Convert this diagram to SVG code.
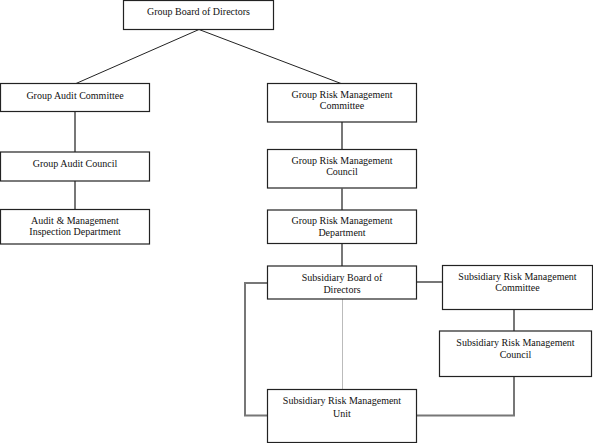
<svg xmlns="http://www.w3.org/2000/svg" width="593" height="443" viewBox="0 0 593 443">
<style>
.box{fill:#fff;stroke:#222;stroke-width:1.2}
.t{font-family:"Liberation Serif","Times New Roman",serif;font-size:10px;fill:#111;text-anchor:middle}
.c{fill:none;stroke:#222;stroke-width:1}
.g{fill:none;stroke:#777;stroke-width:2}
.lg{fill:none;stroke:#bbb;stroke-width:1}
</style>
<rect width="593" height="443" fill="#fff"/>
<g id="connectors">
<line class="c" x1="199" y1="29.5" x2="76" y2="83.5"/>
<line class="c" x1="199" y1="29.5" x2="341" y2="83.5"/>
<line class="g" x1="75" y1="112" x2="75" y2="152"/>
<line class="g" x1="75" y1="181" x2="75" y2="209"/>
<line class="g" x1="342" y1="122" x2="342" y2="149.5"/>
<line class="g" x1="342" y1="188.5" x2="342" y2="210"/>
<line class="g" x1="342" y1="243.5" x2="342" y2="266"/>
<line class="lg" x1="342.5" y1="299" x2="342.5" y2="389.5"/>
<line class="g" x1="417" y1="282" x2="442" y2="282"/>
<line class="g" x1="514" y1="309.5" x2="514" y2="331"/>
<polyline class="g" points="514,377 514,415.5 417,415.5"/>
<polyline class="g" points="267,283 245,283 245,415.5 267,415.5"/>
</g>
<g id="n-board">
<rect class="box" x="123.5" y="0.5" width="150" height="29"/>
<text class="t" x="198.5" y="15">Group Board of Directors</text>
</g>
<g id="n-gac">
<rect class="box" x="0.5" y="83.5" width="149" height="28"/>
<text class="t" x="75" y="98.5">Group Audit Committee</text>
</g>
<g id="n-gacouncil">
<rect class="box" x="0.5" y="152" width="149" height="29"/>
<text class="t" x="75" y="166.5">Group Audit Council</text>
</g>
<g id="n-amid">
<rect class="box" x="0.5" y="209.5" width="149" height="34.5"/>
<text class="t" x="75" y="223.5">Audit &amp; Management</text>
<text class="t" x="75" y="235">Inspection Department</text>
</g>
<g id="n-grmc">
<rect class="box" x="267.5" y="83.5" width="149" height="38.5"/>
<text class="t" x="342" y="98">Group Risk Management</text>
<text class="t" x="342" y="109.3">Committee</text>
</g>
<g id="n-grmcouncil">
<rect class="box" x="267.5" y="149.5" width="149" height="38.5"/>
<text class="t" x="342" y="163.5">Group Risk Management</text>
<text class="t" x="342" y="174.8">Council</text>
</g>
<g id="n-grmd">
<rect class="box" x="267.5" y="210" width="149" height="33.5"/>
<text class="t" x="342" y="224">Group Risk Management</text>
<text class="t" x="342" y="235.5">Department</text>
</g>
<g id="n-sbd">
<rect class="box" x="267.5" y="266" width="149" height="33"/>
<text class="t" x="342" y="281">Subsidiary Board of</text>
<text class="t" x="342" y="292.5">Directors</text>
</g>
<g id="n-srmc">
<rect class="box" x="442.5" y="265.5" width="150" height="44"/>
<text class="t" x="517.5" y="280">Subsidiary Risk Management</text>
<text class="t" x="517.5" y="291">Committee</text>
</g>
<g id="n-srmcouncil">
<rect class="box" x="439.5" y="331" width="152" height="45.5"/>
<text class="t" x="515.5" y="346">Subsidiary Risk Management</text>
<text class="t" x="515.5" y="358">Council</text>
</g>
<g id="n-srmu">
<rect class="box" x="267.5" y="389.5" width="149" height="53"/>
<text class="t" x="342" y="404">Subsidiary Risk Management</text>
<text class="t" x="342" y="416.5">Unit</text>
</g>
</svg>
